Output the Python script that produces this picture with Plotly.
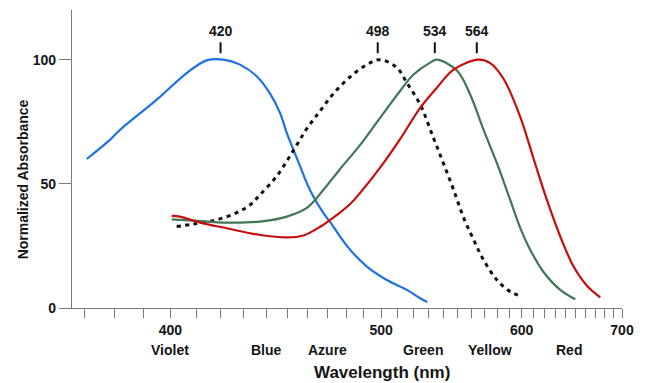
import plotly.graph_objects as go

# ---------------- data (wavelength in nm, normalized absorbance) ----------------
blue_nm = [370.6, 378.3, 381.8, 394.9, 406.3, 414.3, 421.2, 428.3, 435.7, 441.8, 446.5,
           449.7, 452.9, 456.2, 459.5, 462.8, 468.0, 473.2, 476.8, 482.3, 491.7, 503.4,
           515.8, 524.3, 528.9]
blue_abs = [60.0, 67.7, 71.8, 83.9, 94.6, 99.7, 100.0, 98.0, 93.3, 86.3, 78.5,
            70.4, 63.7, 57.0, 50.3, 44.9, 38.2, 32.8, 28.7, 23.4, 16.7, 11.3,
            7.3, 3.9, 2.4]

rod_nm = [402.4, 408.9, 418.4, 426.9, 432.7, 437.2, 445.0, 452.9, 459.5, 466.3, 473.2,
          482.3, 491.7, 499.4, 509.5, 515.8, 524.3, 533.1, 540.0, 547.0, 554.2, 561.5,
          569.1, 579.6, 590.4, 600.3]
rod_abs = [32.8, 33.8, 35.5, 38.4, 41.5, 45.6, 53.2, 63.5, 72.2, 79.4, 86.3,
           93.1, 98.0, 100.0, 96.8, 90.6, 81.9, 68.5, 58.1, 47.6, 36.4, 27.6,
           19.4, 11.3, 6.6, 4.6]

green_nm = [400.5, 408.9, 422.6, 437.2, 449.7, 459.5, 468.0, 476.8, 487.9, 499.4, 511.6,
            520.0, 530.9, 535.4, 549.4, 559.1, 569.1, 579.6, 590.4, 598.8, 607.5, 619.3,
            634.9, 649.6]
green_abs = [35.7, 35.2, 34.4, 34.8, 36.8, 40.3, 47.6, 56.0, 65.7, 76.6, 87.5,
             94.0, 98.8, 100.0, 95.6, 85.9, 71.8, 58.3, 43.5, 32.3, 23.4, 14.5,
             7.3, 3.5]

red_nm = [400.5, 403.7, 411.6, 422.6, 437.2, 449.7, 457.8, 466.3, 475.1, 482.3, 487.9,
          499.4, 511.6, 524.3, 535.4, 547.0, 565.1, 574.3, 584.9, 598.8, 610.4, 622.4,
          634.9, 647.9, 661.5, 675.6]
red_abs = [37.1, 36.8, 34.4, 32.1, 29.4, 28.4, 29.2, 32.7, 37.5, 41.9, 46.4,
           56.5, 68.1, 80.6, 88.7, 96.0, 100.0, 98.6, 92.3, 77.0, 60.1, 43.5,
           28.8, 16.7, 9.0, 4.3]

peak_nm = [420, 498, 534, 564]
band_names = ["Violet", "Blue", "Azure", "Green", "Yellow", "Red"]
band_nm = [400, 440, 470, 526, 574, 643]
minor_ticks_nm = list(range(370, 701, 10))
major_ticks_nm = [400, 500, 600, 700]
y_ticks = [0, 50, 100]

# the wavelength axis is drawn on a reciprocal (wavenumber) scale
def wn(nm):
    return 1000.0 / nm

FONT = "Liberation Sans, Arial, sans-serif"
TXT = "#151515"
AX = "#7a7a7a"

fig = go.Figure()
series = [
    (blue_nm, blue_abs, "#1f6fe5", None, 2.2),
    (rod_nm, rod_abs, "#111111", "4px,4.5px", 3),
    (green_nm, green_abs, "#3f7653", None, 2.2),
    (red_nm, red_abs, "#c70d0d", None, 2.2),
]
for xs, ys, col, dash, w in series:
    fig.add_trace(go.Scatter(
        x=[wn(v) for v in xs], y=ys, mode="lines",
        line=dict(color=col, width=w, dash=dash, shape="spline", smoothing=1.0),
        showlegend=False, hoverinfo="skip"))

# peak markers and labels
for p in peak_nm:
    fig.add_shape(type="line", xref="x", yref="y", x0=wn(p), x1=wn(p), y0=102.6, y1=107.0,
                  line=dict(color="#111111", width=2))
    fig.add_annotation(x=wn(p), y=107.4, xref="x", yref="y", text=str(p), showarrow=False,
                       yanchor="bottom", xanchor="center",
                       font=dict(family=FONT, size=14, color=TXT, weight="bold"))

# colour-band names below the tick labels
for name, nm in zip(band_names, band_nm):
    fig.add_annotation(x=wn(nm), y=-0.141, xref="x", yref="paper", text=name, showarrow=False,
                       xanchor="center", yanchor="middle",
                       font=dict(family=FONT, size=14, color=TXT, weight="bold"))

fig.add_annotation(x=0.5645, y=-0.215, xref="paper", yref="paper", text="Wavelength (nm)",
                   showarrow=False, xanchor="center", yanchor="middle",
                   font=dict(family=FONT, size=17, color=TXT, weight="bold"))
fig.add_annotation(x=-0.09, y=0.43, xref="paper", yref="paper", text="Normalized Absorbance",
                   showarrow=False, textangle=-90, xanchor="center", yanchor="middle",
                   font=dict(family=FONT, size=14, color=TXT, weight="bold"))

# the page body adds an 8px offset, so the figure is 8px smaller with margins adjusted
fig.update_layout(
    width=638, height=375,
    margin=dict(l=64, r=24, t=2, b=75),
    paper_bgcolor="white", plot_bgcolor="white",
    xaxis=dict(
        range=[wn(365.85), wn(700)],
        tickmode="array",
        tickvals=[wn(v) for v in minor_ticks_nm],
        ticktext=[str(v) if v in major_ticks_nm else "" for v in minor_ticks_nm],
        ticks="outside", ticklen=9, tickwidth=1.2, tickcolor=AX,
        showline=True, linecolor=AX, linewidth=1.2,
        showgrid=False, zeroline=False,
        tickfont=dict(family=FONT, size=14, color=TXT, weight="bold"),
    ),
    yaxis=dict(
        range=[0, 120],
        tickmode="array", tickvals=y_ticks, ticktext=[str(v) for v in y_ticks],
        ticks="outside", ticklen=12, tickwidth=1.2, tickcolor=AX,
        showline=True, linecolor=AX, linewidth=1.2,
        showgrid=False, zeroline=False,
        tickfont=dict(family=FONT, size=14, color=TXT, weight="bold"),
    ),
)

fig.write_html("out.html")
